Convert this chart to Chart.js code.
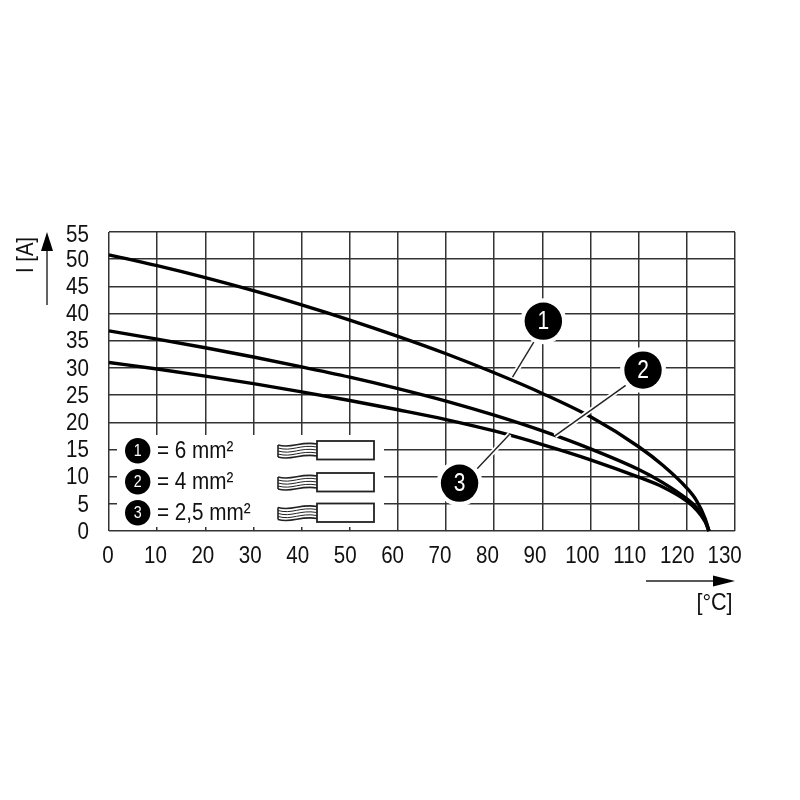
<!DOCTYPE html>
<html>
<head>
<meta charset="utf-8">
<title>I [A] / [°C]</title>
<script src="https://cdn.jsdelivr.net/npm/chart.js@4/dist/chart.umd.min.js"></script>
<style>
    html, body { margin: 0; padding: 0; background: #fff; }
    canvas { display: block; }
</style>
</head>
<body>
<canvas id="chart" width="800" height="800"></canvas>
<script>
// Chart values
const temperatures = [0, 10, 20, 30, 40, 50, 60, 70, 80, 90, 100, 110, 115, 120, 122, 123.8, 124.6];
const current6mm = [50.8, 48.8, 46.6, 44.2, 41.6, 38.8, 35.8, 32.6, 29.1, 25.3, 21, 15.5, 12.1, 7.9, 5.6, 2.3, 0];
const current4mm = [36.8, 35.3, 33.7, 32, 30.2, 28.3, 26.2, 23.9, 21.3, 18.4, 15.1, 11.3, 8.9, 5.9, 4.3, 1.9, 0];
const current25mm = [31, 29.8, 28.5, 27.1, 25.6, 24, 22.3, 20.5, 18.4, 15.9, 13.1, 9.9, 8.1, 5.5, 3.9, 1.7, 0];
const xTicks = [0, 10, 20, 30, 40, 50, 60, 70, 80, 90, 100, 110, 120, 130];
const yTicks = [0, 5, 10, 15, 20, 25, 30, 35, 40, 45, 50, 55];
const legendLabels = ['= 6 mm²', '= 4 mm²', '= 2,5 mm²'];

// The print uses a condensed face, so the text is squeezed horizontally
const FONT = '"Liberation Sans", Arial, sans-serif';
const SQUEEZE = 0.84;
const INK = '#111111';
const GRID = '#333333';

// Callouts are placed in data units so they follow the scales
const callouts = [
    { label: '1', at: [90.2, 38.6], from: [88.4, 35], to: [83.8, 28.3] },
    { label: '2', at: [110.9, 29.6], from: [107.3, 26.8], to: [92.6, 17.5] },
    { label: '3', at: [72.8, 8.8], from: [76.4, 11.4], to: [83.2, 17.8] }
];

function text(ctx, str, x, y, size, align, color, squeeze = SQUEEZE) {
    ctx.save();
    ctx.translate(x, y);
    ctx.scale(squeeze, 1);
    ctx.fillStyle = color;
    ctx.font = size + 'px ' + FONT;
    ctx.textAlign = align;
    ctx.textBaseline = 'middle';
    ctx.fillText(str, 0, 0);
    ctx.restore();
}

function badge(ctx, x, y, r, label, size) {
    ctx.fillStyle = '#000';
    ctx.beginPath();
    ctx.arc(x, y, r, 0, Math.PI * 2);
    ctx.fill();
    text(ctx, label, x, y + 1, size, 'center', '#fff');
}

function arrowHead(ctx, tipX, tipY, dx, dy, len, half) {
    ctx.fillStyle = '#000';
    ctx.beginPath();
    ctx.moveTo(tipX, tipY);
    ctx.lineTo(tipX - dx * len - dy * half, tipY - dy * len - dx * half);
    ctx.lineTo(tipX - dx * len + dy * half, tipY - dy * len + dx * half);
    ctx.closePath();
    ctx.fill();
}

function wire(ctx, top) {
    const cy = top + 9;
    // Stranded end of the conductor
    ctx.strokeStyle = '#222';
    for (let i = -2; i <= 2; i++) {
        const y = cy + i * 3;
        ctx.lineWidth = Math.abs(i) === 2 ? 1.6 : 1;
        ctx.beginPath();
        ctx.moveTo(278, y + 1);
        ctx.bezierCurveTo(292, y + 5, 300, y - 3, 317, y);
        ctx.stroke();
    }
    ctx.beginPath();
    ctx.moveTo(278, cy - 5);
    ctx.lineTo(278, cy + 7);
    ctx.stroke();
    ctx.fillStyle = '#fff';
    ctx.strokeStyle = '#222';
    ctx.lineWidth = 1.8;
    ctx.fillRect(317, top, 57, 18.5);
    ctx.strokeRect(317, top, 57, 18.5);
}

const annotations = {
    id: 'annotations',
    afterDatasetsDraw(chart) {
        const ctx = chart.ctx;
        const sx = chart.scales.x;
        const sy = chart.scales.y;
        ctx.save();

        // Tick labels; the printed x labels sit slightly tighter than the grid
        sy.ticks.forEach(t => {
            const y = sy.getPixelForValue(t.value) + (t.value === 55 ? 3 : 1);
            text(ctx, String(t.value), 89, y, 24.5, 'right', INK);
        });
        sx.ticks.forEach(t => {
            const x = sx.left - 1 + (sx.getPixelForValue(t.value) - sx.left) * 0.985;
            text(ctx, String(t.value), x, 556, 24.5, 'center', INK);
        });

        // Legend panel blanks out the grid
        ctx.fillStyle = '#fff';
        ctx.fillRect(117, 435, 267, 92);
        legendLabels.forEach((label, i) => {
            const y = [450.7, 481.7, 512.7][i];
            badge(ctx, 137.7, y, 12.7, String(i + 1), 17);
            text(ctx, label, 157, y + 0.5, 23.5, 'left', INK, 0.88);
            wire(ctx, [441, 473, 503.5][i]);
        });

        // Leader lines with a white halo, then the badges
        callouts.forEach(c => {
            const x1 = sx.getPixelForValue(c.from[0]);
            const y1 = sy.getPixelForValue(c.from[1]);
            const x2 = sx.getPixelForValue(c.to[0]);
            const y2 = sy.getPixelForValue(c.to[1]);
            ctx.lineCap = 'butt';
            ctx.strokeStyle = '#fff';
            ctx.lineWidth = 5;
            ctx.beginPath();
            ctx.moveTo(x1, y1);
            ctx.lineTo(x2, y2);
            ctx.stroke();
            ctx.strokeStyle = '#222';
            ctx.lineWidth = 1.4;
            ctx.beginPath();
            ctx.moveTo(x1, y1);
            ctx.lineTo(x2, y2);
            ctx.stroke();
        });
        callouts.forEach(c => {
            const x = sx.getPixelForValue(c.at[0]);
            const y = sy.getPixelForValue(c.at[1]);
            ctx.fillStyle = '#fff';
            ctx.beginPath();
            ctx.arc(x, y, 23, 0, Math.PI * 2);
            ctx.fill();
            badge(ctx, x, y, 18.7, c.label, 25);
        });

        // Axis arrows and titles
        ctx.strokeStyle = '#222';
        ctx.lineWidth = 1.4;
        ctx.beginPath();
        ctx.moveTo(47, 305);
        ctx.lineTo(47, 245);
        ctx.moveTo(646, 581);
        ctx.lineTo(720, 581);
        ctx.stroke();
        arrowHead(ctx, 47, 232, 0, -1, 19, 6);
        arrowHead(ctx, 735, 581, 1, 0, 22, 5.5);

        text(ctx, '[°C]', 714.5, 603, 24, 'center', INK, 0.9);
        ctx.translate(26, 255);
        ctx.rotate(-Math.PI / 2);
        text(ctx, 'I [A]', 0, 0, 24, 'center', INK);
        ctx.restore();
    }
};

new Chart(document.getElementById('chart'), {
    type: 'line',
    data: {
        datasets: [current6mm, current4mm, current25mm].map(values => ({
            data: values.map((y, i) => ({ x: temperatures[i], y })),
            borderColor: '#000',
            borderWidth: 3.4,
            pointRadius: 0,
            fill: false,
            cubicInterpolationMode: 'monotone',
            clip: false
        }))
    },
    plugins: [annotations],
    options: {
        responsive: false,
        animation: false,
        layout: { padding: { top: 232, right: 65, left: 0, bottom: 0 } },
        plugins: { legend: { display: false }, tooltip: { enabled: false } },
        scales: {
            x: {
                type: 'linear',
                min: 0,
                max: 130,
                afterBuildTicks: axis => { axis.ticks = xTicks.map(value => ({ value })); },
                afterFit: axis => { axis.height = 269; },
                grid: { color: GRID, lineWidth: 1.5, drawTicks: false },
                border: { display: false },
                ticks: { display: false }
            },
            y: {
                min: 0,
                max: 55,
                afterBuildTicks: axis => { axis.ticks = yTicks.map(value => ({ value })); },
                afterFit: axis => { axis.width = 109; },
                grid: { color: GRID, lineWidth: 1.5, drawTicks: false },
                border: { display: false },
                ticks: { display: false }
            }
        }
    }
});
</script>
</body>
</html>
